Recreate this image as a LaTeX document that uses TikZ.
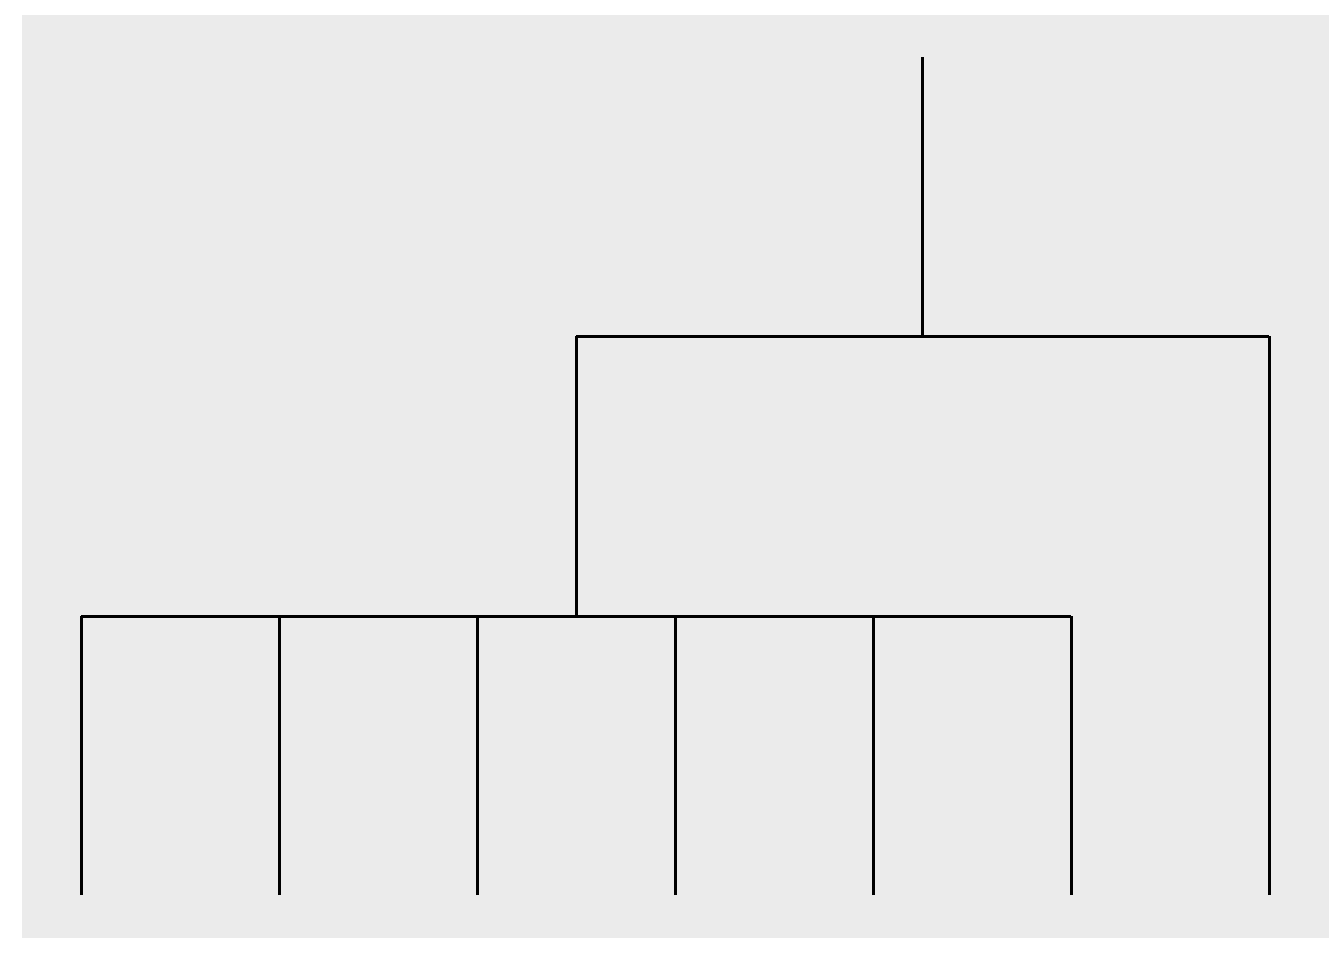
\documentclass[tikz,border=0pt]{standalone}
\usepackage{tikz}

\tikzset{every picture/.style={line width=0.75pt}}
\definecolor{panelgray}{RGB}{235,235,235}
\tikzset{branch/.style={draw=black,line width=2.25pt}}

\begin{document}
\begin{tikzpicture}[x=0.75pt,y=0.75pt,yscale=-1,xscale=1]
\useasboundingbox (0,0) rectangle (1344,960);
\fill[white] (0,0) rectangle (1344,960);

%Shape: Rectangle [id:panel] 
\fill[panelgray] (22,15) rectangle (1329,938);

%Leaves and merge points
\foreach \i/\x in {1/81,2/279,3/477,4/675,5/873,6/1071,7/1269}{
  \coordinate (leaf\i) at (\x,895);
  \coordinate (top\i) at (\x,616);
}
\coordinate (join6) at (576,616);
\coordinate (join6up) at (576,336);
\coordinate (joinR) at (1269,336);
\coordinate (rootL) at (922.5,336);
\coordinate (root) at (922.5,57);

%Straight Lines [id:leaves] 
\foreach \i in {1,...,7}{
  \draw [branch] (leaf\i) -- (top\i);
}
%Straight Lines [id:cluster] 
\draw [branch] (top1) -- (top2) -- (top3) -- (join6) -- (top4) -- (top5) -- (top6);
\draw [branch] (join6) -- (join6up);
\draw [branch] (top7) -- (joinR);
%Straight Lines [id:rootbar] 
\draw [branch] (join6up) -- (rootL) -- (joinR);
\draw [branch] (rootL) -- (root);

\end{tikzpicture}
\end{document}
